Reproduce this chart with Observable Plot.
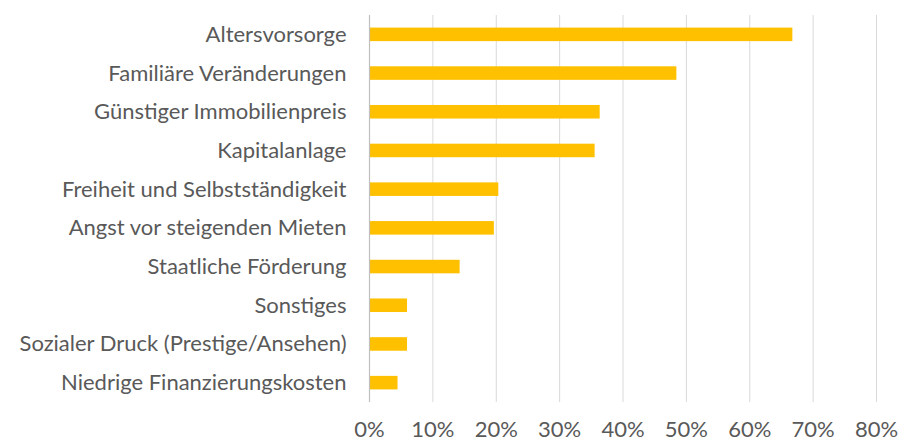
<!DOCTYPE html>
<html><head><meta charset="utf-8">
<script src="https://cdn.jsdelivr.net/npm/d3@7"></script>
<script src="https://cdn.jsdelivr.net/npm/@observablehq/plot@0.6"></script>
<style>body{margin:0;background:#fff}</style>
</head><body><div id="chart"></div>
<script>
const categories = [
  "Altersvorsorge",
  "Familiäre Veränderungen",
  "Günstiger Immobilienpreis",
  "Kapitalanlage",
  "Freiheit und Selbstständigkeit",
  "Angst vor steigenden Mieten",
  "Staatliche Förderung",
  "Sonstiges",
  "Sozialer Druck (Prestige/Ansehen)",
  "Niedrige Finanzierungskosten"
];
const values = [0.668, 0.485, 0.364, 0.356, 0.204, 0.197, 0.143, 0.060, 0.060, 0.045];
const xTicks = [0, 0.1, 0.2, 0.3, 0.4, 0.5, 0.6, 0.7, 0.8];

const data = categories.map((c, i) => ({category: c, value: values[i]}));

const chart = Plot.plot({
  width: 905,
  height: 442,
  marginLeft: 369,
  marginRight: 29,
  marginTop: 15,
  marginBottom: 40,
  style: {fontFamily: "Lato, sans-serif", fontSize: "22px", color: "#595959", background: "#fff"},
  x: {domain: [0, 0.8], ticks: xTicks, tickFormat: d3.format(".0%"), label: null},
  y: {domain: categories, paddingInner: 0.65, paddingOuter: 0.325, round: false, label: null},
  marks: [
    Plot.gridX(xTicks, {stroke: "#d9d9d9", strokeOpacity: 1, strokeWidth: 1}),
    Plot.barX(data, {y: "category", x: "value", fill: "#FFC000"}),
    Plot.ruleX([0], {stroke: "#bfbfbf", strokeWidth: 1.2}),
    Plot.axisX(xTicks, {tickSize: 0, tickPadding: 19, tickFormat: d3.format(".0%"), fill: "#595959", fontSize: 22}),
    Plot.axisY({tickSize: 0, tickPadding: 23, fill: "#595959", fontSize: 22})
  ]
});
document.getElementById("chart").appendChild(chart);
</script></body></html>
